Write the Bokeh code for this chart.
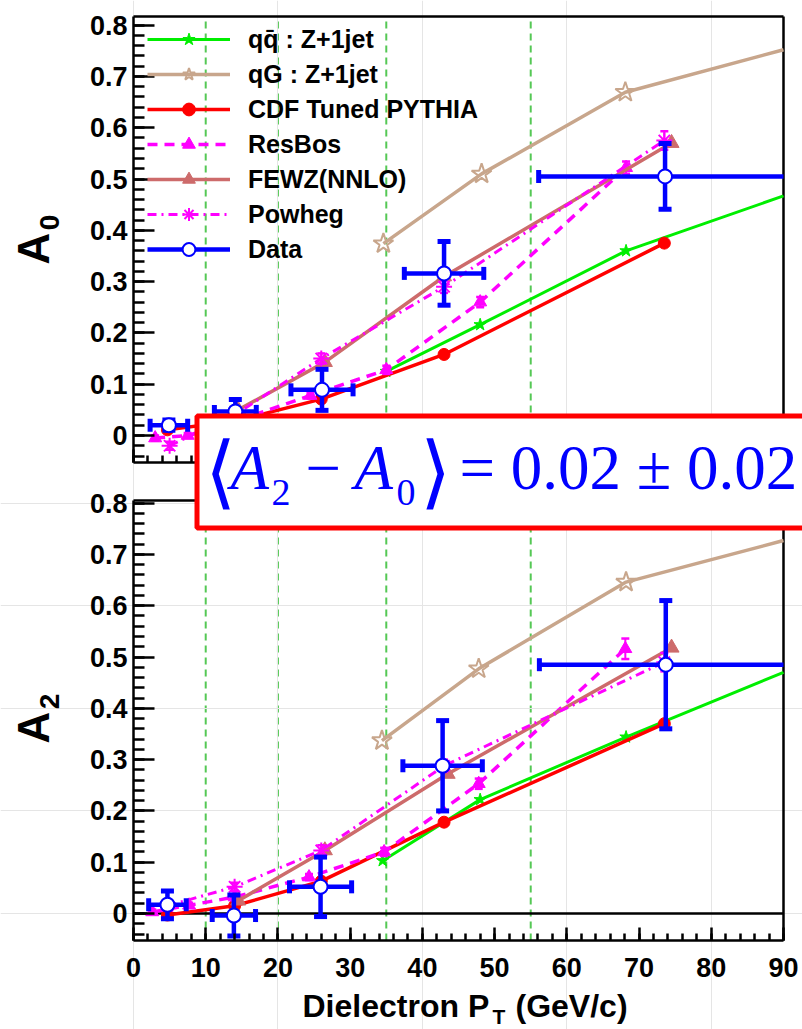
import numpy as np
from bokeh.plotting import figure
from bokeh.models import (Range1d, FixedTicker, LinearAxis, BoxAnnotation, Label,
                          Legend, LegendItem)
from bokeh.embed import file_html
from bokeh.resources import INLINE

# ---------------------------------------------------------------- data
# A0 panel
a0_qq_x = [35.0, 48.0, 68.2, 90.0]
a0_qq_y = [0.125, 0.216, 0.360, 0.467]
a0_qg_x = [34.6, 48.2, 68.1, 90.0]
a0_qg_y = [0.374, 0.510, 0.669, 0.752]
a0_cdf_x = [4.7, 14.0, 26.0, 43.0, 73.5]
a0_cdf_y = [0.011, 0.028, 0.071, 0.158, 0.375]
a0_resbos_x = [3.0, 7.5, 14.5, 24.5, 35.0, 48.0, 68.2]
a0_resbos_y = [-0.005, 0.0, 0.030, 0.078, 0.128, 0.260, 0.522]
a0_resbos_err = [0.005, 0.005, 0.005, 0.006, 0.008, 0.010, 0.012]
a0_fewz_x = [14.5, 26.5, 43.0, 74.5]
a0_fewz_y = [0.050, 0.143, 0.310, 0.570]
a0_powheg_x = [5.0, 14.0, 26.0, 43.0, 73.5]
a0_powheg_y = [-0.020, 0.040, 0.150, 0.290, 0.575]
a0_powheg_err = [0.008, 0.008, 0.010, 0.012, 0.018]
a0_data_x = [4.9, 14.1, 26.1, 43.0, 73.6]
a0_data_xerr = [2.6, 2.9, 4.3, 5.5, 17.5]
a0_data_y = [0.020, 0.047, 0.089, 0.316, 0.505]
a0_data_yerr = [0.010, 0.023, 0.040, 0.062, 0.064]

# A2 panel
a2_qq_x = [34.5, 48.0, 68.2, 90.0]
a2_qq_y = [0.103, 0.222, 0.344, 0.470]
a2_qg_x = [34.4, 47.8, 68.2, 90.0]
a2_qg_y = [0.337, 0.477, 0.646, 0.727]
a2_cdf_x = [4.7, 14.0, 26.0, 43.0, 73.5]
a2_cdf_y = [-0.003, 0.015, 0.063, 0.178, 0.370]
a2_resbos_x = [2.6, 7.7, 14.0, 24.3, 34.7, 47.8, 68.1]
a2_resbos_y = [0.003, 0.016, 0.032, 0.071, 0.120, 0.253, 0.516]
a2_resbos_err = [0.005, 0.005, 0.006, 0.006, 0.008, 0.010, 0.020]
a2_fewz_x = [14.5, 26.5, 43.5, 74.5]
a2_fewz_y = [0.025, 0.123, 0.272, 0.518]
a2_powheg_x = [4.7, 14.0, 26.0, 43.0, 73.5]
a2_powheg_y = [0.015, 0.052, 0.123, 0.288, 0.490]
a2_powheg_err = [0.008, 0.008, 0.010, 0.012, 0.018]
a2_data_x = [4.7, 13.9, 25.9, 42.8, 73.7]
a2_data_xerr = [2.6, 3.0, 4.3, 5.5, 17.5]
a2_data_y = [0.017, -0.004, 0.052, 0.288, 0.485]
a2_data_yerr = [0.027, 0.040, 0.058, 0.088, 0.125]

bin_edges = [10, 20, 35, 55]
y_tick_labels = ["0", "0.1", "0.2", "0.3", "0.4", "0.5", "0.6", "0.7", "0.8"]
x_ticks = list(range(0, 91, 10))
X_MAX = 90.0

# ---------------------------------------------------------------- layout
W, H = 802, 1029
X0_PX, X90_PX = 133, 783
XS = (X90_PX - X0_PX) / X_MAX          # px per GeV/c
YS = 513.0                             # px per unit of A
ZERO_A2, ZERO_A0 = 913, 435            # canvas rows of y = 0 in each pad
A0_TOP_PX, A0_BOT_PX = 16, 462
A2_TOP_PX, A2_BOT_PX = 500, 940
OFFSET = (ZERO_A2 - ZERO_A0) / YS      # shift between the two pads' y coordinates


def dx(px):
    return (px - X0_PX) / XS


def dy(py):
    return (ZERO_A2 - py) / YS


a0_lo, a0_hi = (ZERO_A0 - A0_BOT_PX) / YS, (ZERO_A0 - A0_TOP_PX) / YS
a2_lo, a2_hi = (ZERO_A2 - A2_BOT_PX) / YS, (ZERO_A2 - A2_TOP_PX) / YS

# one canvas holds both pads; each pad's axes sit at fixed locations inside it
p = figure(width=W, height=H, output_backend="svg", toolbar_location=None,
           x_range=Range1d(dx(0), dx(W)), y_range=Range1d(dy(H), dy(0)),
           x_axis_location=None, y_axis_location=None, min_border=0)
p.extra_y_ranges = {"a0": Range1d(dy(H) - OFFSET, dy(0) - OFFSET)}
p.outline_line_color = None
p.background_fill_color = "white"
p.border_fill_color = "white"

BLACK = "#000000"
FONT = "Liberation Sans"
TICK_FONT = "27px"


def style_axis(ax, major_in, minor_in):
    ax.axis_line_color = BLACK
    ax.axis_line_width = 2.5
    ax.major_tick_in, ax.major_tick_out = major_in, 0
    ax.minor_tick_in, ax.minor_tick_out = minor_in, 0
    ax.major_tick_line_width = 2.5
    ax.minor_tick_line_width = 2.5
    ax.major_tick_line_color = BLACK
    ax.minor_tick_line_color = BLACK
    ax.major_label_text_font = FONT
    ax.major_label_text_font_size = TICK_FONT
    ax.major_label_text_font_style = "bold"
    ax.major_label_text_color = BLACK


# ---------------------------------------------------------------- axes
y_ticks = [round(0.1 * i, 6) for i in range(9)]
y_minor = [round(-0.04 + 0.02 * i, 6) for i in range(43)]
y_labels = dict(zip(y_ticks, y_tick_labels))

for rng, lo, hi in (("a0", a0_lo, a0_hi), ("default", a2_lo, a2_hi)):
    ax = LinearAxis(ticker=FixedTicker(ticks=y_ticks, minor_ticks=y_minor),
                    major_label_overrides=y_labels, fixed_location=0, bounds=(lo, hi),
                    y_range_name=rng)
    style_axis(ax, 21, 11)
    ax.major_label_standoff = 6
    p.add_layout(ax, "left")

x_minor = list(range(0, 91, 2))
x_bottom = LinearAxis(ticker=FixedTicker(ticks=x_ticks, minor_ticks=x_minor),
                      fixed_location=a2_lo, bounds=(0, X_MAX))
style_axis(x_bottom, 13, 7)
x_bottom.major_label_standoff = 17
p.add_layout(x_bottom, "below")

x_top = LinearAxis(ticker=FixedTicker(ticks=x_ticks, minor_ticks=x_minor),
                   major_label_overrides={t: "" for t in x_ticks},
                   fixed_location=a0_lo, bounds=(0, X_MAX), y_range_name="a0")
style_axis(x_top, 13, 7)
p.add_layout(x_top, "below")

# remaining pad borders: tops, right side, zero line of the lower pad
frame_kw = dict(line_color=BLACK, line_width=2.5)
p.segment(x0=[0], y0=[a0_hi], x1=[X_MAX], y1=[a0_hi], y_range_name="a0", **frame_kw)
p.segment(x0=[0, 0, X_MAX], y0=[a2_hi, 0, a2_lo], x1=[X_MAX, X_MAX, X_MAX],
          y1=[a2_hi, 0, a0_hi + OFFSET], **frame_kw)

# bin boundaries
edges = np.array(bin_edges, dtype=float)
p.segment(x0=edges, x1=edges, y0=np.full(len(edges), a2_lo),
          y1=np.full(len(edges), a0_hi + OFFSET), line_color="#55c855", line_width=2,
          line_dash="7 5", level="underlay")

# ---------------------------------------------------------------- series
GREEN, TAN, RED, MAG, FEWZ, BLUE = "#00ee00", "#c8a68c", "#ff0000", "#ff00ff", "#cd6b6b", "#0000ff"


def small_errors(x, y, err, color, kw):
    x, y, err = (np.array(v, dtype=float) for v in (x, y, err))
    p.segment(x0=x, x1=x, y0=y - err, y1=y + err, line_color=color, line_width=2, **kw)
    p.scatter(np.concatenate([x, x]), np.concatenate([y - err, y + err]), marker="dash",
              size=8, line_color=color, line_width=2.5, **kw)


def draw_panel(rng, qq, qg, cdf, resbos, fewz, powheg, data):
    kw = {} if rng is None else {"y_range_name": rng}
    out = {}
    l = p.line(qq[0], qq[1], line_color=GREEN, line_width=3, **kw)
    m = p.scatter(qq[0][:-1], qq[1][:-1], marker="star", size=13, fill_color=GREEN,
                  line_color=GREEN, **kw)
    out["qq"] = [l, m]
    l = p.line(qg[0], qg[1], line_color=TAN, line_width=3.5, **kw)
    m = p.scatter(qg[0][:-1], qg[1][:-1], marker="star", size=21, fill_alpha=0,
                  line_color=TAN, line_width=2, **kw)
    out["qg"] = [l, m]
    l = p.line(cdf[0], cdf[1], line_color=RED, line_width=3.5, **kw)
    m = p.scatter(cdf[0], cdf[1], marker="circle", size=12, fill_color=RED, line_color=RED, **kw)
    out["cdf"] = [l, m]
    small_errors(*resbos, MAG, kw)
    l = p.line(resbos[0], resbos[1], line_color=MAG, line_width=3.5, line_dash="10 7", **kw)
    m = p.scatter(resbos[0], resbos[1], marker="triangle", size=13, fill_color=MAG,
                  line_color=MAG, **kw)
    out["resbos"] = [l, m]
    l = p.line(fewz[0], fewz[1], line_color=FEWZ, line_width=3.5, **kw)
    m = p.scatter(fewz[0], fewz[1], marker="triangle", size=15, fill_color=FEWZ,
                  line_color=FEWZ, **kw)
    out["fewz"] = [l, m]
    small_errors(*powheg, MAG, kw)
    l = p.line(powheg[0], powheg[1], line_color=MAG, line_width=3, line_dash="9 5 2 5", **kw)
    m = p.scatter(powheg[0], powheg[1], marker="asterisk", size=16, line_color=MAG,
                  line_width=2, **kw)
    out["powheg"] = [l, m]

    x, xe, y, ye = (np.array(v, dtype=float) for v in data)
    x_left, x_right = x - xe, np.minimum(x + xe, X_MAX)   # bars stop at the pad edge
    inside = (x + xe) <= X_MAX
    h = p.segment(x0=x_left, x1=x_right, y0=y, y1=y, line_color=BLUE, line_width=4.5, **kw)
    p.segment(x0=x, x1=x, y0=y - ye, y1=y + ye, line_color=BLUE, line_width=4.5, **kw)
    p.scatter(np.concatenate([x_left, x_right[inside]]), np.concatenate([y, y[inside]]),
              marker="dash", angle=np.pi / 2, size=13, line_color=BLUE, line_width=5, **kw)
    p.scatter(np.concatenate([x, x]), np.concatenate([y - ye, y + ye]), marker="dash",
              size=13, line_color=BLUE, line_width=5, **kw)
    c = p.scatter(x, y, marker="circle", size=14, fill_color="white", line_color=BLUE,
                  line_width=2, **kw)
    out["data"] = [h, c]
    return out


r0 = draw_panel("a0", (a0_qq_x, a0_qq_y), (a0_qg_x, a0_qg_y), (a0_cdf_x, a0_cdf_y),
                (a0_resbos_x, a0_resbos_y, a0_resbos_err), (a0_fewz_x, a0_fewz_y),
                (a0_powheg_x, a0_powheg_y, a0_powheg_err),
                (a0_data_x, a0_data_xerr, a0_data_y, a0_data_yerr))
draw_panel(None, (a2_qq_x, a2_qq_y), (a2_qg_x, a2_qg_y), (a2_cdf_x, a2_cdf_y),
           (a2_resbos_x, a2_resbos_y, a2_resbos_err), (a2_fewz_x, a2_fewz_y),
           (a2_powheg_x, a2_powheg_y, a2_powheg_err),
           (a2_data_x, a2_data_xerr, a2_data_y, a2_data_yerr))

legend = Legend(items=[
    LegendItem(label="qq\u0304 : Z+1jet", renderers=r0["qq"]),
    LegendItem(label="qG : Z+1jet", renderers=r0["qg"]),
    LegendItem(label="CDF Tuned PYTHIA", renderers=r0["cdf"]),
    LegendItem(label="ResBos", renderers=r0["resbos"]),
    LegendItem(label="FEWZ(NNLO)", renderers=r0["fewz"]),
    LegendItem(label="Powheg", renderers=r0["powheg"]),
    LegendItem(label="Data", renderers=r0["data"]),
], location=(147, H - 265), padding=0, margin=0, spacing=3,
    glyph_width=83, glyph_height=32, label_height=32, label_standoff=18,
    label_text_font=FONT, label_text_font_size="25px", label_text_font_style="bold",
    label_text_color=BLACK, background_fill_alpha=0, border_line_alpha=0)
p.add_layout(legend)

# ---------------------------------------------------------------- result box
p.add_layout(BoxAnnotation(left=dx(196.5), right=dx(815), top=dy(415.5), bottom=dy(527.5),
                           fill_color="white", fill_alpha=1.0, line_color=RED,
                           line_alpha=1.0, line_width=5))
SERIF = "Liberation Serif"


def box_text(px, py, text, size, style="normal"):
    p.add_layout(Label(x=dx(px), y=dy(py), text=text, text_font=SERIF,
                       text_font_size=size, text_font_style=style, text_color=BLUE,
                       text_align="left", text_baseline="middle"))


box_text(204, 471, "\u27e8", "80px")
box_text(230, 467, "A", "63px", style="italic")
box_text(271, 492, "2", "38px")
box_text(305, 467, "\u2212", "63px")
box_text(354, 467, "A", "63px", style="italic")
box_text(396, 492, "0", "38px")
box_text(419, 471, "\u27e9", "80px")
box_text(459, 467, "= 0.02 \u00b1 0.02", "63px")

# ---------------------------------------------------------------- axis titles


def title_text(px, py, text, size, angle=0.0, align="center"):
    p.add_layout(Label(x=dx(px), y=dy(py), text=text, text_font=FONT, text_font_size=size,
                       text_font_style="bold", text_color=BLACK, angle=angle,
                       text_align=align, text_baseline="middle"))


title_text(33, 248, "A", "44px", angle=np.pi / 2)
title_text(49, 222, "0", "28px", angle=np.pi / 2)
title_text(33, 727, "A", "44px", angle=np.pi / 2)
title_text(49, 701, "2", "28px", angle=np.pi / 2)
title_text(302, 1005, "Dielectron P", "32px", align="left")
title_text(492, 1016, "T", "21px", align="left")
title_text(515, 1005, "(GeV/c)", "32px", align="left")

open("out.html", "w").write(file_html(p, INLINE))
